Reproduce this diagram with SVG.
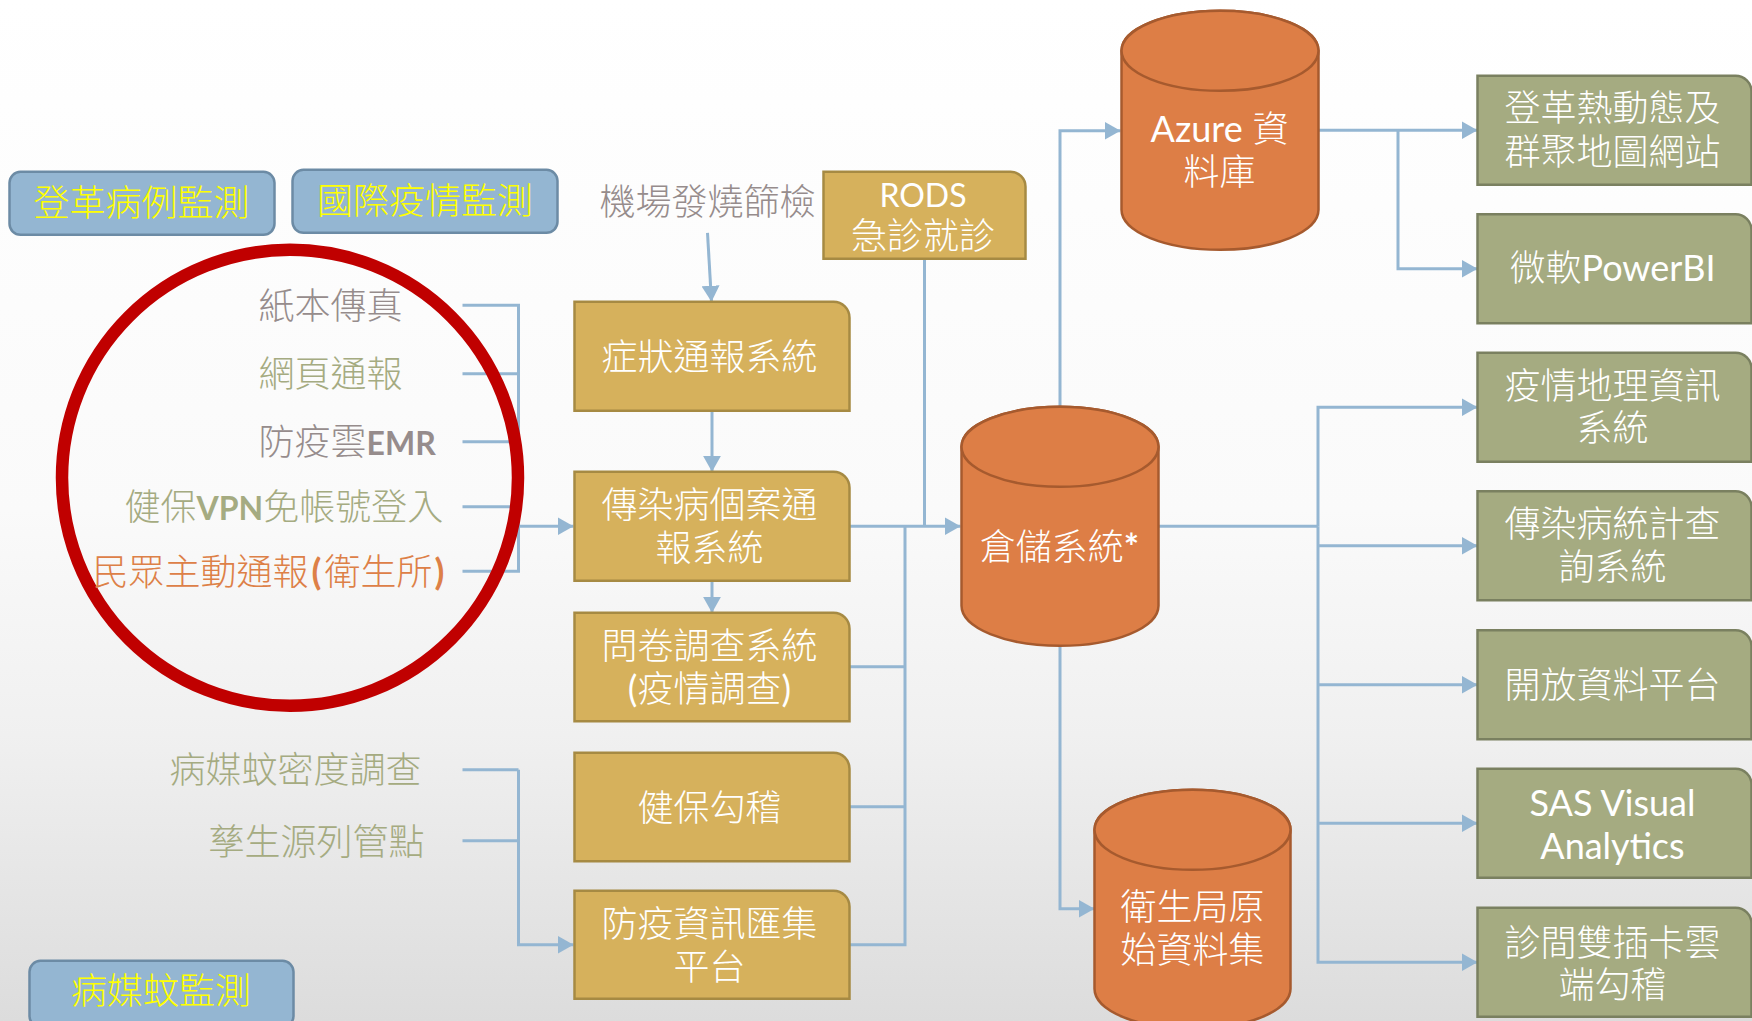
<svg xmlns="http://www.w3.org/2000/svg" width="1752" height="1021" viewBox="0 0 1752 1021">
<style>
text{font-family:"Lato","Noto Sans CJK TC",sans-serif;font-size:36px;font-weight:300;text-anchor:middle;transform:translateY(1.2px)}
.l{font-weight:400}
.gold{fill:#D6B15C;stroke:#A68A43;stroke-width:2.5}
.green{fill:#A5AB81;stroke:#7A8060;stroke-width:2.5}
.orange{fill:#DD7E46;stroke:#A65A2E;stroke-width:2.5}
.blue{fill:#94B6D2;stroke:#6C8BA5;stroke-width:2.5}
.w{fill:#fff}
.y{fill:#FFFF00}
.lab{text-anchor:start}
.g{fill:#968C8C}
.n{fill:#A5AB81}
.o{fill:#DD8047}
.b{font-weight:700}
.s{font-size:32px}
#connectors path{fill:none;stroke:#94B6D2;stroke-width:3}
.arr{marker-end:url(#ah)}
</style>
<defs>
<linearGradient id="bg" x1="0" y1="0" x2="0" y2="1">
<stop offset="0" stop-color="#ffffff"/>
<stop offset="0.5" stop-color="#fafafa"/>
<stop offset="0.72" stop-color="#f0f0f0"/>
<stop offset="1" stop-color="#dcdcdc"/>
</linearGradient>
<marker id="ah" markerUnits="userSpaceOnUse" markerWidth="17" markerHeight="18" refX="16" refY="9" orient="auto"><path d="M0,0L16,9L0,18Z" fill="#94B6D2"/></marker>
</defs>
<rect id="background" width="1752" height="1021" fill="url(#bg)"/>
<g id="diagram" transform="translate(0.5,0.8)">
<g id="connectors">
<path d="M462,304.5H518V570.5H462M462,373H518M462,441H518M462,506H518"/>
<path class="arr" d="M518,525.5H573"/>
<path class="arr" d="M707,232L711,301"/>
<path class="arr" d="M711.5,410V471"/>
<path class="arr" d="M711.5,580V612"/>
<path d="M924,258V525.5"/>
<path class="arr" d="M849,525.5H960"/>
<path d="M849,666H904.5M849,806H904.5M849,944H904.5V525.5"/>
<path d="M462,769H518M462,840H518"/>
<path class="arr" d="M518,769V944H573"/>
<path class="arr" d="M1059.5,406V130H1120"/>
<path class="arr" d="M1318,129.500H1477"/>
<path class="arr" d="M1397.5,129.500V268H1477"/>
<path class="arr" d="M1059.5,645V908H1094"/>
<path d="M1158,525.5H1317.5"/>
<path class="arr" d="M1317.5,525.5V406.5H1477"/>
<path class="arr" d="M1317.5,545H1477"/>
<path class="arr" d="M1317.5,684H1477"/>
<path class="arr" d="M1317.5,822.5H1477"/>
<path class="arr" d="M1317.5,525.5V961.5H1477"/>
</g>
<ellipse id="red-circle" cx="289.5" cy="477" rx="228" ry="228" fill="none" stroke="#C00000" stroke-width="12.500"/>
<g id="m1"><rect class="blue" x="9" y="171" width="265" height="63" rx="11"/><text class="y" x="141" y="214">登革病例監測</text></g>
<g id="m2"><rect class="blue" x="292" y="169" width="265" height="63" rx="11"/><text class="y" x="424.5" y="212">國際疫情監測</text></g>
<g id="m3"><rect class="blue" x="29" y="960" width="264" height="66" rx="11"/><text class="y" x="160.500" y="1002">病媒蚊監測</text></g>
<g id="s1"><text class="lab g" x="258" y="317">紙本傳真</text></g>
<g id="s2"><text class="lab n" x="258" y="385">網頁通報</text></g>
<g id="s3"><text class="lab g" x="258" y="453">防疫雲<tspan class="b s">EMR</tspan></text></g>
<g id="s4"><text class="lab n" x="124" y="518">健保<tspan class="b s">VPN</tspan>免帳號登入</text></g>
<g id="s5"><text class="lab o" x="92" y="583">民眾主動通報<tspan class="b" dx="3">(</tspan><tspan dx="3">衛生所</tspan><tspan class="b" dx="2">)</tspan></text></g>
<g id="s6"><text class="lab g" x="599" y="213">機場發燒篩檢</text></g>
<g id="s7"><text class="lab n" x="169" y="781">病媒蚊密度調查</text></g>
<g id="s8"><text class="lab n" x="208" y="853">孳生源列管點</text></g>
<g id="rods"><path class="gold" d="M823,171H1010A15,15 0 0 1 1025,186V258H823Z"/><text class="w l s" x="922.5" y="205">RODS</text><text class="w" x="922.5" y="247">急診就診</text></g>
<g id="p1"><path class="gold" d="M574,301H833A16,16 0 0 1 849,317V410H574Z"/><text class="w" x="709" y="368">症狀通報系統</text></g>
<g id="p2"><path class="gold" d="M574,471H833A16,16 0 0 1 849,487V580H574Z"/><text class="w" x="709" y="516">傳染病個案通</text><text class="w" x="709" y="559">報系統</text></g>
<g id="p3"><path class="gold" d="M574,612H833A16,16 0 0 1 849,628V720.5H574Z"/><text class="w" x="709" y="657">問卷調查系統</text><text class="w" x="709" y="700"><tspan class="l">(</tspan>疫情調查<tspan class="l">)</tspan></text></g>
<g id="p4"><path class="gold" d="M574,752H833A16,16 0 0 1 849,768V860.5H574Z"/><text class="w" x="709" y="819">健保勾稽</text></g>
<g id="p5"><path class="gold" d="M574,890H833A16,16 0 0 1 849,906V998H574Z"/><text class="w" x="709" y="935">防疫資訊匯集</text><text class="w" x="709" y="978">平台</text></g>
<g id="db-warehouse"><path class="orange" d="M961,446V605A98.5,40 0 0 0 1158,605V446A98.5,40 0 0 0 961,446Z"/><ellipse class="orange" cx="1059.5" cy="446" rx="98.5" ry="40"/><text class="w" x="1059" y="558">倉儲系統<tspan class="b">*</tspan></text></g>
<g id="db-azure"><path class="orange" d="M1121,50V209A98.5,40 0 0 0 1318,209V50A98.5,40 0 0 0 1121,50Z"/><ellipse class="orange" cx="1219.5" cy="50" rx="98.5" ry="40"/><text class="w" x="1219" y="140"><tspan class="l">Azure</tspan> 資</text><text class="w" x="1219" y="183">料庫</text></g>
<g id="db-health"><path class="orange" d="M1094,829V988A98,40 0 0 0 1290,988V829A98,40 0 0 0 1094,829Z"/><ellipse class="orange" cx="1192" cy="829" rx="98" ry="40"/><text class="w" x="1192" y="918">衛生局原</text><text class="w" x="1192" y="961">始資料集</text></g>
<g id="o1"><path class="green" d="M1477,75H1735A16,16 0 0 1 1751,91V184H1477Z"/><text class="w" x="1612" y="119">登革熱動態及</text><text class="w" x="1612" y="163">群聚地圖網站</text></g>
<g id="o2"><path class="green" d="M1477,213.500H1735A16,16 0 0 1 1751,229.500V322.500H1477Z"/><text class="w" x="1612" y="279">微軟<tspan class="l">PowerBI</tspan></text></g>
<g id="o3"><path class="green" d="M1477,352H1735A16,16 0 0 1 1751,368V461H1477Z"/><text class="w" x="1612" y="397">疫情地理資訊</text><text class="w" x="1612" y="439">系統</text></g>
<g id="o4"><path class="green" d="M1477,490.500H1735A16,16 0 0 1 1751,506.500V599.500H1477Z"/><text class="w" x="1612" y="535">傳染病統計查</text><text class="w" x="1612" y="578">詢系統</text></g>
<g id="o5"><path class="green" d="M1477,629.500H1735A16,16 0 0 1 1751,645.500V738.500H1477Z"/><text class="w" x="1612" y="696">開放資料平台</text></g>
<g id="o6"><path class="green" d="M1477,768H1735A16,16 0 0 1 1751,784V877H1477Z"/><text class="w l" x="1612" y="814">SAS Visual</text><text class="w l" x="1612" y="857">Analytics</text></g>
<g id="o7"><path class="green" d="M1477,907H1735A16,16 0 0 1 1751,923V1016H1477Z"/><text class="w" x="1612" y="954">診間雙插卡雲</text><text class="w" x="1612" y="996">端勾稽</text></g>
</g>
</svg>
